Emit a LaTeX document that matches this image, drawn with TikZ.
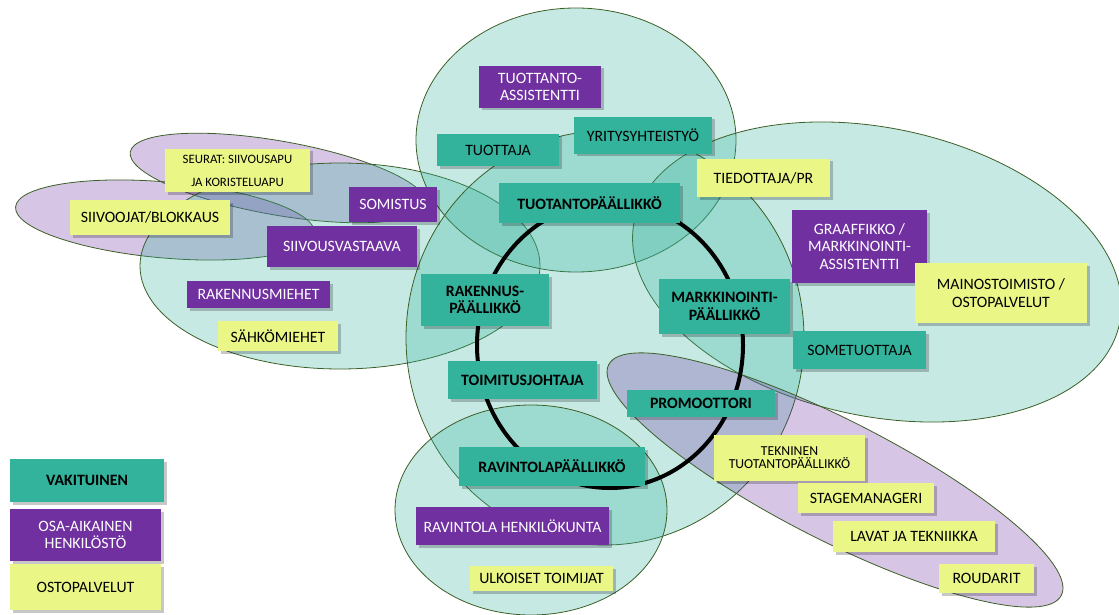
\documentclass[tikz,border=0pt]{standalone}
\usepackage{fontspec}
\setmainfont{Carlito}
\usetikzlibrary{shadows}
\definecolor{vteal}{RGB}{51,178,156}
\definecolor{vpurple}{RGB}{112,48,160}
\definecolor{vyellow}{RGB}{234,246,134}
\definecolor{edgegreen}{RGB}{60,95,40}
\tikzset{
  box/.style={rectangle, inner sep=1pt, align=center,
    font=\fontsize{15.8}{17.5}\selectfont,
    drop shadow={shadow xshift=2.5pt, shadow yshift=-2.5pt, fill=black, opacity=0.22}},
  vak/.style={box, fill=vteal, text=black},
  vakb/.style={vak, font=\fontsize{15.8}{17.5}\selectfont\bfseries},
  osa/.style={box, fill=vpurple, text=white},
  osto/.style={box, fill=vyellow, text=black},
  zone/.style={draw=edgegreen, line width=0.8pt, fill=vteal, fill opacity=0.28},
  pzone/.style={draw=edgegreen, line width=0.8pt, fill=vpurple, fill opacity=0.28},
  ring/.style={draw=black, line width=4pt}
}
\begin{document}
\begin{tikzpicture}[x=1pt, y=-1pt]
\useasboundingbox (0,0) rectangle (1119,615);
% zones
\draw[pzone, rotate around={-10:(278,178)}] (278,178) ellipse [x radius=150, y radius=37];
\draw[pzone, rotate around={-5:(165,220)}] (165,220) ellipse [x radius=150, y radius=38];
\draw[zone] (340,266) ellipse [x radius=200, y radius=103];
\draw[zone] (576,140) ellipse [x radius=160, y radius=132];
\draw[zone, rotate around={-12:(877,272)}] (877,272) ellipse [x radius=248, y radius=144];
\draw[zone] (605,338) ellipse [x radius=199, y radius=207];
\draw[zone] (531,510) ellipse [x radius=136, y radius=105];
\draw[pzone, rotate around={-27:(835,480)}] (835,480) ellipse [x radius=254, y radius=60];
% ring
\draw[ring] (610,345) ellipse [x radius=133, y radius=143];
% boxes
\node[osa, minimum width=122pt, minimum height=42pt] (tass) at (540,87) {TUOTTANTO-\\ASSISTENTTI};
\node[vak, minimum width=122pt, minimum height=32pt] (tuottaja) at (498,150) {TUOTTAJA};
\node[vak, minimum width=138pt, minimum height=37pt] (yritys) at (643,135.5) {YRITYSYHTEISTYÖ};
\node[vakb, minimum width=181pt, minimum height=40pt] (tpaal) at (589.5,203) {TUOTANTOPÄÄLLIKKÖ};
\node[osto, minimum width=133pt, minimum height=38pt] (tied) at (763.5,178) {TIEDOTTAJA/PR};
\node[osa, minimum width=88pt, minimum height=35pt] (somistus) at (393,204.5) {SOMISTUS};
\node[osto, minimum width=145pt, minimum height=43pt, font=\fontsize{12.8}{23}\selectfont] (seurat) at (237.5,170.5) {SEURAT: SIIVOUSAPU\\JA KORISTELUAPU};
\node[osto, minimum width=160pt, minimum height=35pt] (siivoojat) at (150,217.5) {SIIVOOJAT/BLOKKAUS};
\node[osa, minimum width=150pt, minimum height=41pt] (siivousv) at (342,246.5) {SIIVOUSVASTAAVA};
\node[osa, minimum width=143pt, minimum height=27pt] (rakmiehet) at (258.5,294.5) {RAKENNUSMIEHET};
\node[osto, minimum width=120pt, minimum height=30pt] (sahko) at (278,336) {SÄHKÖMIEHET};
\node[vakb, minimum width=128pt, minimum height=52pt] (rpaal) at (485,300) {RAKENNUS-\\PÄÄLLIKKÖ};
\node[vakb, minimum width=131pt, minimum height=55pt] (mpaal) at (724.5,306.5) {MARKKINOINTI-\\PÄÄLLIKKÖ};
\node[osa, minimum width=135pt, minimum height=73pt] (graaf) at (859.5,246.5) {GRAAFFIKKO /\\MARKKINOINTI-\\ASSISTENTTI};
\node[osto, minimum width=172pt, minimum height=60pt] (mainos) at (1001,293) {MAINOSTOIMISTO /\\OSTOPALVELUT};
\node[vak, minimum width=133pt, minimum height=38pt] (some) at (859.5,350) {SOMETUOTTAJA};
\node[vakb, minimum width=149pt, minimum height=38pt] (tj) at (522.5,380) {TOIMITUSJOHTAJA};
\node[vakb, minimum width=148pt, minimum height=27pt] (promo) at (701,403.5) {PROMOOTTORI};
\node[vakb, minimum width=186pt, minimum height=39pt] (ravp) at (552,466.5) {RAVINTOLAPÄÄLLIKKÖ};
\node[osa, minimum width=193pt, minimum height=38pt] (ravh) at (512.5,526) {RAVINTOLA HENKILÖKUNTA};
\node[osto, minimum width=143pt, minimum height=25pt] (ulk) at (541.5,578.5) {ULKOISET TOIMIJAT};
\node[osto, minimum width=151pt, minimum height=46pt, font=\fontsize{13.7}{13}\selectfont] (tekn) at (789.5,458) {TEKNINEN\\TUOTANTOPÄÄLLIKKÖ};
\node[osto, minimum width=136pt, minimum height=30pt] (stage) at (866,498) {STAGEMANAGERI};
\node[osto, minimum width=162pt, minimum height=31pt] (lavat) at (914,536.5) {LAVAT JA TEKNIIKKA};
\node[osto, minimum width=95pt, minimum height=29pt] (roud) at (986.5,578.5) {ROUDARIT};
% legend
\node[vakb, minimum width=154pt, minimum height=43pt] (lvak) at (87,480.5) {VAKITUINEN};
\node[osa, minimum width=151pt, minimum height=52pt] (losa) at (85.5,535) {OSA-AIKAINEN\\HENKILÖSTÖ};
\node[osto, minimum width=151pt, minimum height=46pt] (losto) at (85.5,587) {OSTOPALVELUT};
\end{tikzpicture}
\end{document}
